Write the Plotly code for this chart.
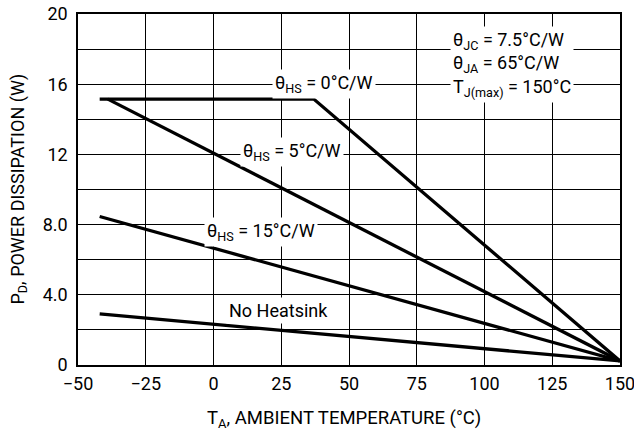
import plotly.graph_objects as go

FONT = "Roboto, Liberation Sans, sans-serif"
FS = 18

# Data
hs0_x = [-42, 37, 150]
hs0_y = [15.15, 15.15, 0.23]
hs5_x = [-39, 150]
hs5_y = [15.15, 0.23]
hs15_x = [-42, 150]
hs15_y = [8.46, 0.23]
nohs_x = [-42, 150]
nohs_y = [2.91, 0.23]

x_ticks = [-50, -25, 0, 25, 50, 75, 100, 125, 150]
y_ticks = [0, 4, 8, 12, 16, 20]
y_ticktext = ["0", "4.0", "8.0", "12", "16", "20"]
y_minor = [2, 6, 10, 14, 18]

fig = go.Figure()
for xs, ys in [(hs0_x, hs0_y), (hs5_x, hs5_y), (hs15_x, hs15_y), (nohs_x, nohs_y)]:
    fig.add_trace(go.Scatter(x=xs, y=ys, mode="lines",
                             line=dict(color="black", width=3.3),
                             showlegend=False, hoverinfo="skip"))

labels = [
    (40.7, 16.0, "θ<sub>HS</sub> = 0°C/W"),
    (28.9, 12.15, "θ<sub>HS</sub> = 5°C/W"),
    (17.4, 7.6, "θ<sub>HS</sub> = 15°C/W"),
    (24.1, 3.1, "No Heatsink"),
]
for x, y, t in labels:
    fig.add_annotation(x=x, y=y, text=t, showarrow=False,
                       font=dict(family=FONT, size=FS, color="black"),
                       bgcolor="white", borderpad=2)

fig.add_annotation(x=87.2, y=17.1, xanchor="left", align="left",
                   text="θ<sub>JC</sub> = 7.5°C/W<br>θ<sub>JA</sub> = 65°C/W<br>T<sub>J(max)</sub> = 150°C",
                   showarrow=False, bgcolor="white", borderpad=2,
                   font=dict(family=FONT, size=FS, color="black"))

# axis titles
fig.add_annotation(xref="paper", yref="paper", x=0.49, y=0, yshift=-54,
                   xanchor="center", yanchor="middle", showarrow=False,
                   text="T<sub>A</sub>, AMBIENT TEMPERATURE (°C)",
                   font=dict(family=FONT, size=FS + 0.5, color="black"))
fig.add_annotation(xref="paper", yref="paper", x=0, y=0.5, xshift=-60,
                   xanchor="center", yanchor="middle", showarrow=False, textangle=-90,
                   text="P<sub>D</sub>, POWER DISSIPATION (W)",
                   font=dict(family=FONT, size=FS, color="black"))

axis_common = dict(showgrid=True, gridcolor="black", gridwidth=1,
                   showline=True, linecolor="black", linewidth=1.5, mirror=True,
                   zeroline=False, ticks="", automargin=False,
                   ticklabeloverflow="allow",
                   tickfont=dict(family=FONT, size=FS, color="black"))

fig.update_xaxes(range=[-50, 150], tickvals=x_ticks, ticklabelstandoff=2, **axis_common)
fig.update_yaxes(range=[0, 20], tickvals=y_ticks, ticktext=y_ticktext,
                 ticklabelstandoff=5,
                 minor=dict(tickvals=y_minor, showgrid=True, gridcolor="black",
                            gridwidth=1, ticks=""),
                 **axis_common)

fig.update_layout(width=634, height=433, margin=dict(l=78, r=14, t=14, b=68),
                  plot_bgcolor="white", paper_bgcolor="white",
                  font=dict(family=FONT, color="black"))

fig.write_html("out.html", config={"displayModeBar": False},
               post_script="document.body.style.margin='0';document.body.style.overflow='hidden';")
